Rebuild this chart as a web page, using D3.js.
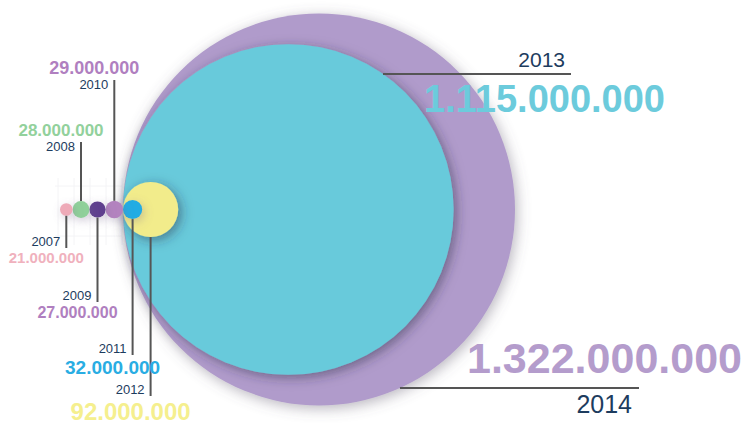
<!DOCTYPE html>
<html>
<head>
<meta charset="utf-8">
<script src="https://cdnjs.cloudflare.com/ajax/libs/d3/7.8.5/d3.min.js"></script>
<style>
  html, body { margin: 0; padding: 0; background: #fff; }
  svg { display: block; font-family: "Liberation Sans", Arial, Helvetica, sans-serif; }
</style>
</head>
<body>
<div id="chart"></div>
<script>
// values in millions
const years = ["2007", "2008", "2009", "2010", "2011", "2012", "2013", "2014"];
const values = [21, 28, 27, 29, 32, 92, 1115, 1322];

const width = 749;
const height = 423;

const circleColor = d3.scaleOrdinal()
    .domain(years)
    .range(["#eeaab8", "#8fd09a", "#5f3f8e", "#b383bf", "#23ace3", "#f2ec8b", "#68cadb", "#b09bcb"]);
const labelColor = d3.scaleOrdinal()
    .domain(years)
    .range(["#f0b1bd", "#92d19c", "#b07fc0", "#b07fc0", "#29ade3", "#f5ef8e", "#6ccbdc", "#b49ccc"]);
const yearColor = "#1d3c5e";
const leaderColor = "#555555";

const locale = d3.formatLocale({ decimal: ",", thousands: ".", grouping: [3], currency: ["", ""] });
const fmt = locale.format(",d");

// two linear scales: small years vs the huge last two
const rSmall = d3.scaleLinear().domain([0, 100]).range([0, 30]);
const rBig = d3.scaleLinear().domain([0, 1322]).range([0, 196]);
const rScale = v => v < 100 ? rSmall(v) : rBig(v);

const data = years.map((y, i) => ({ year: y, value: values[i], r: rScale(values[i]) }));

// layout: from 2011 on, circles share a left edge; earlier ones chain leftwards
const x0 = 123;
const cy = 209.5;
let left = x0;
for (let i = 3; i >= 0; i--) {
    data[i].cx = left - data[i].r;
    left -= 2 * data[i].r;
}
for (let i = 4; i < data.length; i++) data[i].cx = x0 + data[i].r;
data.forEach(d => d.cy = cy);

const svg = d3.select("#chart").append("svg")
    .attr("width", width)
    .attr("height", height)
    .attr("viewBox", `0 0 ${width} ${height}`);

const defs = svg.append("defs");
const sh = defs.append("filter").attr("id", "shadow")
    .attr("x", "-30%").attr("y", "-30%").attr("width", "160%").attr("height", "160%");
sh.append("feDropShadow").attr("dx", 3).attr("dy", 3).attr("stdDeviation", 6)
    .attr("flood-color", "#2a2540").attr("flood-opacity", 0.5);
const glow = defs.append("filter").attr("id", "glow")
    .attr("x", "-30%").attr("y", "-30%").attr("width", "160%").attr("height", "160%");
glow.append("feDropShadow").attr("dx", 2).attr("dy", 3).attr("stdDeviation", 7)
    .attr("flood-color", "#605a70").attr("flood-opacity", 0.45);
const soft = defs.append("filter").attr("id", "soft")
    .attr("x", "-100%").attr("y", "-100%").attr("width", "300%").attr("height", "300%");
soft.append("feDropShadow").attr("dx", 2).attr("dy", 3).attr("stdDeviation", 5)
    .attr("flood-color", "#7a6a90").attr("flood-opacity", 0.35);

// faint grid behind the small circles
const grid = svg.append("g").attr("stroke", "#ececf0").attr("stroke-width", 1).attr("opacity", 0.6);
d3.range(58, 125, 16).forEach(x => {
    grid.append("line").attr("x1", x).attr("x2", x).attr("y1", 178).attr("y2", 245);
});
[186, 236].forEach(y => grid.append("line").attr("x1", 55).attr("x2", 122).attr("y1", y).attr("y2", y));

// leader lines for small circles
const leaderEnd = { "2007": 248, "2008": 142, "2009": 302, "2010": 80, "2011": 355, "2012": 396 };
const small = data.filter(d => d.value < 100);

// circles, biggest first
const order = data.slice(4).reverse().concat(data.slice(0, 4).reverse());
svg.append("g").selectAll("circle")
    .data(order)
    .join("circle")
    .attr("cx", d => d.cx)
    .attr("cy", d => d.cy)
    .attr("r", d => d.r)
    .attr("fill", d => circleColor(d.year))
    .attr("filter", d => d.year === "2014" ? "url(#glow)" : d.value > 50 ? "url(#shadow)" : "url(#soft)");

svg.append("g").selectAll("line")
    .data(small)
    .join("line")
    .attr("x1", d => d.cx).attr("x2", d => d.cx)
    .attr("y1", d => leaderEnd[d.year] > d.cy ? d.cy + d.r : d.cy - d.r)
    .attr("y2", d => leaderEnd[d.year])
    .attr("stroke", leaderColor)
    .attr("stroke-width", 2);

// small labels
const valueSize = { "2007": 15, "2008": 17, "2009": 16, "2010": 18, "2011": 19, "2012": 24 };
const smallLabels = svg.append("g");
small.forEach(d => {
    const above = leaderEnd[d.year] < d.cy;
    const yb = above ? leaderEnd[d.year] + 9 : leaderEnd[d.year] - 2;
    smallLabels.append("text")
        .attr("x", d.cx - 6)
        .attr("y", yb)
        .attr("text-anchor", "end")
        .attr("font-size", 13)
        .attr("fill", yearColor)
        .text(d.year);
    smallLabels.append("text")
        .attr("x", d.cx - 20)
        .attr("y", above ? yb - 15 : Math.min(yb + valueSize[d.year] + 1.5, height - 2.5))
        .attr("text-anchor", "middle")
        .attr("font-size", valueSize[d.year])
        .attr("font-weight", "bold")
        .attr("fill", labelColor(d.year))
        .text(fmt(d.value * 1e6));
});

// big labels
const bigLabels = [
    { year: "2013", lineY: 74, lineX2: 571, yearX: 565, yearY: 67, yearSize: 21, valX: 665, valY: 112, valSize: 38 },
    { year: "2014", lineY: 388, lineX2: 639, yearX: 632, yearY: 413, yearSize: 25, valX: 742, valY: 373, valSize: 43 }
];
const bl = svg.append("g");
bigLabels.forEach(b => {
    const d = data.find(e => e.year === b.year);
    const dy = b.lineY - d.cy;
    const x1 = d.cx + Math.sqrt(Math.max(0, d.r * d.r - dy * dy));
    bl.append("line")
        .attr("x1", x1).attr("x2", b.lineX2)
        .attr("y1", b.lineY).attr("y2", b.lineY)
        .attr("stroke", leaderColor)
        .attr("stroke-width", 2);
    bl.append("text")
        .attr("x", b.yearX).attr("y", b.yearY)
        .attr("text-anchor", "end")
        .attr("font-size", b.yearSize)
        .attr("fill", yearColor)
        .text(b.year);
    bl.append("text")
        .attr("x", b.valX).attr("y", b.valY)
        .attr("text-anchor", "end")
        .attr("font-size", b.valSize)
        .attr("font-weight", "bold")
        .attr("fill", labelColor(b.year))
        .text(fmt(d.value * 1e6));
});
</script>
</body>
</html>
